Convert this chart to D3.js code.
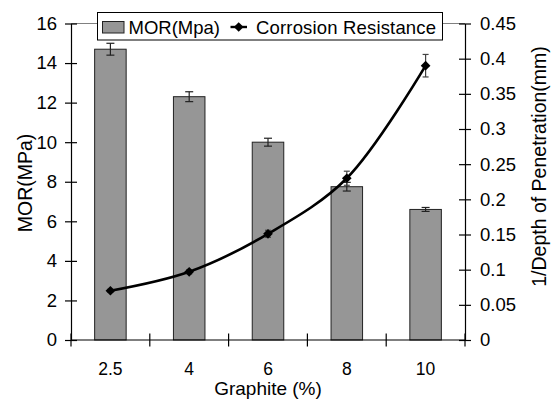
<!DOCTYPE html>
<html>
<head>
<meta charset="utf-8">
<script src="https://cdn.jsdelivr.net/npm/d3@7"></script>
<style>
  body { margin: 0; background: #fff; }
  svg { font-family: "Liberation Sans", Arial, sans-serif; }
</style>
</head>
<body>
<div id="chart"></div>
<script>
// data
var graphite = ["2.5", "4", "6", "8", "10"];
var morValues = [14.7, 12.3, 10.0, 7.75, 6.6];
var morErrors = [0.3, 0.25, 0.2, 0.22, 0.1];
var corrValues = [0.07, 0.097, 0.151, 0.23, 0.39];
var corrErrors = [0.002, 0.003, 0.005, 0.01, 0.016];
var leftTicks = [0, 2, 4, 6, 8, 10, 12, 14, 16];
var rightTicks = [0, 0.05, 0.1, 0.15, 0.2, 0.25, 0.3, 0.35, 0.4, 0.45];

var svgWidth = 555;
var svgHeight = 402;

var margin = { top: 23.5, right: 90, bottom: 62, left: 71 };
var chartWidth = svgWidth - margin.left - margin.right;
var chartHeight = svgHeight - margin.top - margin.bottom;

var svg = d3.select("#chart").append("svg")
    .attr("width", svgWidth)
    .attr("height", svgHeight);

var chartGroup = svg.append("g")
    .attr("transform", `translate(${margin.left}, ${margin.top})`);

var rows = graphite.map((g, i) => ({
    g: g, mor: morValues[i], morErr: morErrors[i],
    corr: corrValues[i], corrErr: corrErrors[i]
}));

// scales
var xScale = d3.scaleBand().domain(graphite).range([0, chartWidth]);
var yLeft = d3.scaleLinear().domain([0, 16]).range([chartHeight, 0]);
var yRight = d3.scaleLinear().domain([0, 0.45]).range([chartHeight, 0]);

// plot top border (gray)
chartGroup.append("line")
    .attr("x1", 0).attr("x2", chartWidth)
    .attr("y1", 0).attr("y2", 0)
    .attr("stroke", "#808080").attr("stroke-width", 1);

// bars
var barW = xScale.bandwidth() * 0.4;
chartGroup.selectAll(".bar")
    .data(rows)
    .enter()
    .append("rect")
    .attr("class", "bar")
    .attr("x", d => xScale(d.g) + xScale.bandwidth() / 2 - barW / 2)
    .attr("y", d => yLeft(d.mor))
    .attr("width", barW)
    .attr("height", d => chartHeight - yLeft(d.mor))
    .attr("fill", "#969696")
    .attr("stroke", "#222")
    .attr("stroke-width", 1);

// error bars helper
function errorBars(cls, yScale, val, err, cap, color) {
    var g = chartGroup.selectAll("." + cls)
        .data(rows).enter().append("g").attr("class", cls)
        .attr("stroke", color).attr("stroke-width", 1.2);
    var cx = d => xScale(d.g) + xScale.bandwidth() / 2;
    g.append("line")
        .attr("x1", cx).attr("x2", cx)
        .attr("y1", d => yScale(d[val] - d[err]))
        .attr("y2", d => yScale(d[val] + d[err]));
    g.append("line")
        .attr("x1", d => cx(d) - cap).attr("x2", d => cx(d) + cap)
        .attr("y1", d => yScale(d[val] + d[err]))
        .attr("y2", d => yScale(d[val] + d[err]));
    g.append("line")
        .attr("x1", d => cx(d) - cap).attr("x2", d => cx(d) + cap)
        .attr("y1", d => yScale(d[val] - d[err]))
        .attr("y2", d => yScale(d[val] - d[err]));
}
errorBars("morErr", yLeft, "mor", "morErr", 4, "#222");

// corrosion line
var line = d3.line()
    .x(d => xScale(d.g) + xScale.bandwidth() / 2)
    .y(d => yRight(d.corr))
    .curve(d3.curveCatmullRom.alpha(0.5));

chartGroup.append("path")
    .datum(rows)
    .attr("fill", "none")
    .attr("stroke", "#000")
    .attr("stroke-width", 2.6)
    .attr("d", line);

errorBars("corrErr", yRight, "corr", "corrErr", 3, "#444");

var diamond = d3.symbol().type(d3.symbolDiamond2).size(60);
chartGroup.selectAll(".pt")
    .data(rows).enter().append("path")
    .attr("class", "pt")
    .attr("transform", d => `translate(${xScale(d.g) + xScale.bandwidth() / 2}, ${yRight(d.corr)})`)
    .attr("d", diamond)
    .attr("fill", "#000");

// axes
var xAxisG = chartGroup.append("g").attr("transform", `translate(0, ${chartHeight})`);
xAxisG.append("line").attr("x1", 0).attr("x2", chartWidth)
    .attr("stroke", "#000").attr("stroke-width", 1.2);
var bounds = graphite.map(g => xScale(g)).concat([chartWidth]);
xAxisG.selectAll(".xt").data(bounds).enter().append("line")
    .attr("x1", d => d).attr("x2", d => d)
    .attr("y1", -6.5).attr("y2", 6.5)
    .attr("stroke", "#000").attr("stroke-width", 1.2);
xAxisG.selectAll(".xl").data(graphite).enter().append("text")
    .attr("x", d => xScale(d) + xScale.bandwidth() / 2)
    .attr("y", 35)
    .attr("text-anchor", "middle")
    .attr("font-size", "17.5px")
    .text(d => d);

var leftAxis = d3.axisLeft(yLeft).tickValues(leftTicks)
    .tickSizeInner(-6).tickSizeOuter(0).tickPadding(0);
var leftG = chartGroup.append("g").call(leftAxis);
leftG.select(".domain").attr("stroke-width", 1.2);
leftG.selectAll(".tick line").attr("x1", -6).attr("x2", 6).attr("stroke-width", 1.2);
leftG.selectAll(".tick text").attr("x", -14).attr("font-size", "18.5px")
    .attr("font-family", "Liberation Sans, Arial, sans-serif").attr("fill", "#000");

var rightAxis = d3.axisRight(yRight).tickValues(rightTicks)
    .tickSizeInner(6).tickSizeOuter(0).tickPadding(0)
    .tickFormat(d => d3.format("")(+d.toFixed(2)));
var rightG = chartGroup.append("g")
    .attr("transform", `translate(${chartWidth}, 0)`).call(rightAxis);
rightG.select(".domain").attr("stroke-width", 1.2);
rightG.selectAll(".tick line").attr("x1", -6).attr("x2", 6).attr("stroke-width", 1.2);
rightG.selectAll(".tick text").attr("x", 15).attr("font-size", "18.5px")
    .attr("font-family", "Liberation Sans, Arial, sans-serif").attr("fill", "#000");

// axis titles
svg.append("text")
    .attr("transform", "translate(32, 183) rotate(-90)")
    .attr("text-anchor", "middle")
    .attr("font-size", "19.5px")
    .text("MOR(MPa)");

svg.append("text")
    .attr("transform", "translate(546, 166.5) rotate(-90)")
    .attr("text-anchor", "middle")
    .attr("font-size", "19.5px")
    .text("1/Depth of Penetration(mm)");

svg.append("text")
    .attr("x", margin.left + chartWidth / 2)
    .attr("y", 395)
    .attr("text-anchor", "middle")
    .attr("font-size", "19px")
    .text("Graphite (%)");

// legend
var legend = svg.append("g");
legend.append("rect")
    .attr("x", 97.5).attr("y", 12.5)
    .attr("width", 345).attr("height", 27.5)
    .attr("fill", "#fff").attr("stroke", "#000").attr("stroke-width", 1);
legend.append("rect")
    .attr("x", 102.5).attr("y", 21.5)
    .attr("width", 21.5).attr("height", 11.5)
    .attr("fill", "#969696").attr("stroke", "#222");
legend.append("text")
    .attr("x", 128.5).attr("y", 33.5)
    .attr("font-size", "18.5px")
    .text("MOR(Mpa)");
legend.append("line")
    .attr("x1", 230.5).attr("x2", 247)
    .attr("y1", 27).attr("y2", 27)
    .attr("stroke", "#000").attr("stroke-width", 2.4);
legend.append("path")
    .attr("transform", "translate(238.7, 27)")
    .attr("d", diamond)
    .attr("fill", "#000");
legend.append("text")
    .attr("x", 256).attr("y", 33.5)
    .attr("font-size", "18.5px")
    .attr("textLength", 180)
    .text("Corrosion Resistance");
</script>
</body>
</html>
